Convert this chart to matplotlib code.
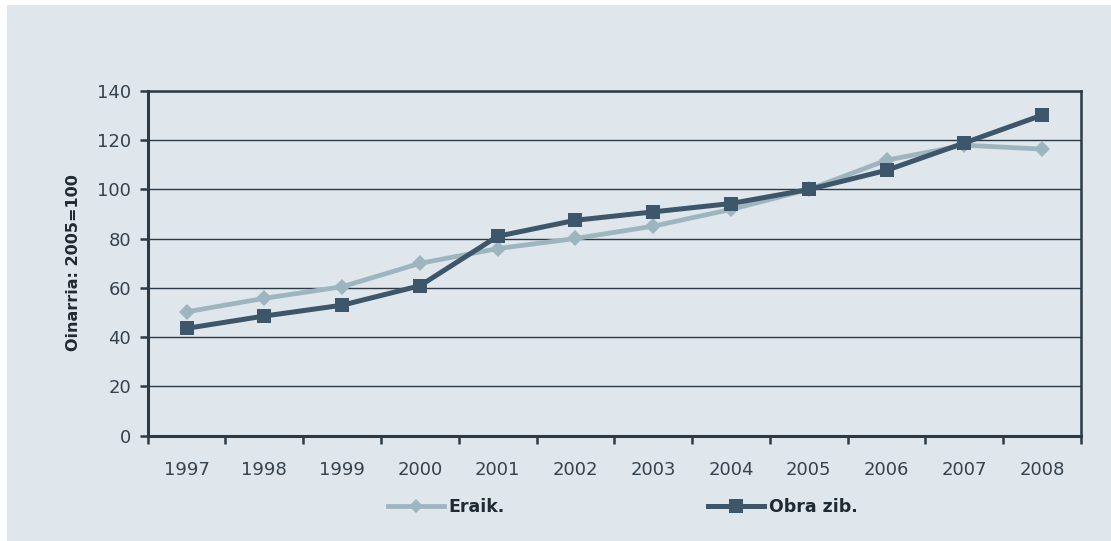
import matplotlib
matplotlib.use("Agg")
import matplotlib.pyplot as plt
from matplotlib.patches import Rectangle
from matplotlib.lines import Line2D

years = ["1997", "1998", "1999", "2000", "2001", "2002", "2003", "2004", "2005", "2006", "2007", "2008"]
eraik = [50.3, 55.8, 60.5, 70.0, 76.0, 80.1, 85.1, 91.9, 100.0, 111.9, 118.0, 116.4]
obra_zib = [43.6, 48.6, 53.0, 60.9, 81.0, 87.5, 90.9, 94.3, 100.0, 107.8, 118.9, 130.2]
yticks = [0, 20, 40, 60, 80, 100, 120, 140]
series_names = ["Eraik.", "Obra zib."]
ylabel = "Oinarria: 2005=100"

bg = "#dfe6ec"
dark = "#2b3a45"
c_light = "#9db5bf"
c_dark = "#3d566a"

fig = plt.figure(figsize=(11.11, 5.41), dpi=100)
fig.patch.set_facecolor("white")
fig.patches.append(Rectangle((7 / 1111, 0), 1 - 7 / 1111, 1 - 5 / 541, transform=fig.transFigure,
                             facecolor=bg, edgecolor="none", zorder=-10))

ax = fig.add_axes([147.7 / 1111, 1 - 435.7 / 541, (1081 - 147.7) / 1111, (435.7 - 91) / 541])
ax.set_zorder(1)
ax.set_facecolor(bg)
x = list(range(len(years)))

ax.plot(x, eraik, color=c_light, lw=3.4, marker="D", markersize=8, markeredgewidth=0,
        zorder=3, label=series_names[0], solid_joinstyle="round")
ax.plot(x, obra_zib, color=c_dark, lw=3.6, marker="s", markersize=10.5, markeredgewidth=0,
        zorder=4, label=series_names[1], solid_joinstyle="round")

ax.set_xlim(-0.5, len(years) - 0.5)
ax.set_ylim(0, 140)
ax.set_yticks(yticks)
ax.set_yticklabels([str(v) for v in yticks])
ax.set_xticks(x)
ax.set_xticklabels(years)
ax.set_xticks([i - 0.5 for i in range(len(years) + 1)], minor=True)
ax.tick_params(axis="x", which="major", length=0, pad=18)
ax.tick_params(axis="x", which="minor", length=6, width=1.8, color=dark, direction="out")
ax.tick_params(axis="y", which="major", length=6, width=1.8, color=dark, direction="out", pad=6)
for lab in ax.get_xticklabels() + ax.get_yticklabels():
    lab.set_fontsize(13)
    lab.set_color("#36424c")
    lab.set_family("DejaVu Sans")

ax.yaxis.grid(True, color=dark, lw=1.0)
ax.set_axisbelow(True)
for s in ["left", "bottom"]:
    ax.spines[s].set_color(dark)
    ax.spines[s].set_linewidth(2.2)
for s in ["top", "right"]:
    ax.spines[s].set_color(dark)
    ax.spines[s].set_linewidth(1.8)

fig.text(73 / 1111, 1 - 263 / 541, ylabel, rotation=90, ha="center", va="center",
         fontsize=11.5, fontweight="bold", color="#1f2a33")

h1 = Line2D([], [], color=c_light, lw=3.4, marker="D", markersize=7, markeredgewidth=0)
h2 = Line2D([], [], color=c_dark, lw=3.6, marker="s", markersize=10.5, markeredgewidth=0)
fig.legend([h1], [series_names[0]], loc="center left", bbox_to_anchor=(388 / 1111, 1 - 507 / 541),
           frameon=False, handlelength=3.2, handletextpad=0.3, borderaxespad=0, borderpad=0,
           prop={"weight": "bold", "size": 12.5}, labelcolor="#1f2a33")
fig.legend([h2], [series_names[1]], loc="center left", bbox_to_anchor=(708 / 1111, 1 - 507 / 541),
           frameon=False, handlelength=3.2, handletextpad=0.3, borderaxespad=0, borderpad=0,
           prop={"weight": "bold", "size": 12.5}, labelcolor="#1f2a33")

fig.savefig("out.png", dpi=100, facecolor=fig.get_facecolor())
